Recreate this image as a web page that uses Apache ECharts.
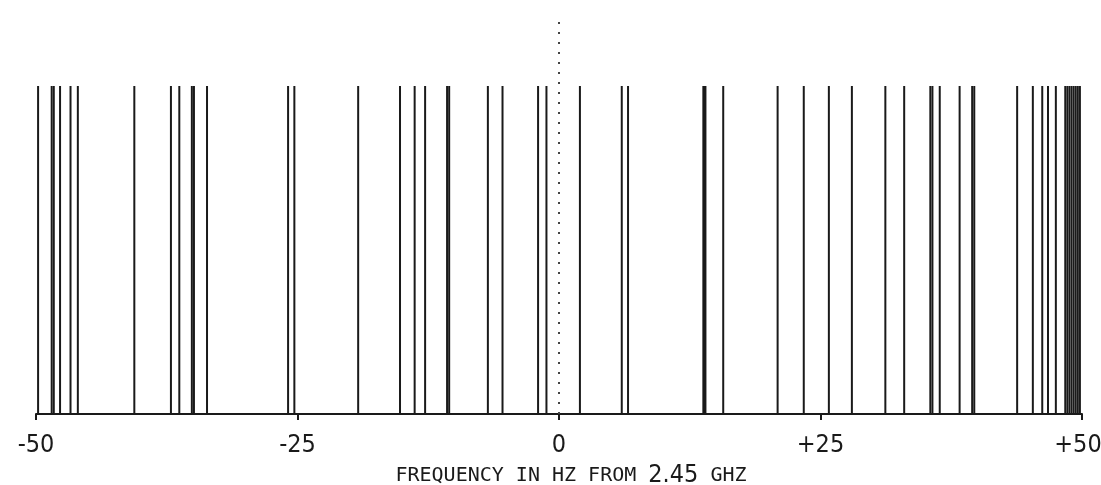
<!DOCTYPE html>
<html>
<head>
<meta charset="utf-8">
<script src="https://cdn.jsdelivr.net/npm/echarts@6/dist/echarts.min.js"></script>
<style>
  html, body { margin: 0; padding: 0; background: #fff; }
  #chart { width: 1101px; height: 485px; }
</style>
</head>
<body>
<div id="chart"></div>
<script>
// frequencies of the lines, Hz offset from 2.45 GHz (thick marks read as close pairs)
const lineFreqs = [
  -49.8, -48.5, -48.3, -47.7, -46.7, -46.0, -40.6, -37.1, -36.3, -35.1, -34.9, -33.65,
  -25.9, -25.3, -19.2, -15.2, -13.8, -12.8, -10.7, -10.5, -6.8, -5.4, -2.0, -1.2,
  2.0, 6.0, 6.6, 13.8, 13.9, 14.0, 15.7, 20.9, 23.4, 25.8, 28.0, 31.2, 33.0,
  35.5, 35.7, 36.4, 38.3, 39.5, 39.7, 43.8, 45.3, 46.2, 46.75, 47.5,
  48.4, 48.6, 48.8, 49.0, 49.2, 49.4, 49.6, 49.8
];
const lineHeight = 0.82;
const zeroLine = [0];
const zeroHeight = 1;
const tickLabels = ['-50', '-25', '0', '+25', '+50'];

const chart = echarts.init(document.getElementById('chart'), null, { renderer: 'canvas' });

function vline(height, style) {
  return function (params, api) {
    const x = api.value(0);
    const p0 = api.coord([x, 0]);
    const p1 = api.coord([x, height]);
    return {
      type: 'line',
      shape: { x1: p0[0], y1: p0[1], x2: p1[0], y2: p1[1] },
      style: style
    };
  };
}

const labelFont = '"DejaVu Sans Condensed", "Liberation Sans Narrow", sans-serif';

chart.setOption({
  backgroundColor: '#fff',
  animation: false,
  grid: { left: 36, right: 19, top: 14, bottom: 71, containLabel: false, outerBoundsMode: 'none' },
  xAxis: {
    type: 'value',
    min: -50,
    max: 50,
    interval: 25,
    axisLine: { onZero: false, lineStyle: { color: '#1a1a1a', width: 2 } },
    axisTick: { show: true, inside: false, length: 6, lineStyle: { color: '#1a1a1a', width: 2 } },
    axisLabel: {
      margin: 19,
      color: '#1a1a1a',
      fontSize: 25,
      fontFamily: labelFont,
      // last label sits a bit left of its tick so it stays on the page
      formatter: (v, i) => i === tickLabels.length - 1 ? '{r|' + tickLabels[i] + '}' : tickLabels[i],
      rich: {
        r: { fontSize: 25, fontFamily: labelFont, color: '#1a1a1a', padding: [0, 8, 0, 0] }
      }
    },
    splitLine: { show: false },
    name: '{s|FREQUENCY IN HZ FROM }{b|2.45}{s| GHZ}',
    nameLocation: 'middle',
    nameGap: 48,
    nameTextStyle: {
      padding: [0, 0, 0, 24],
      rich: {
        s: { fontFamily: '"DejaVu Sans Mono", monospace', fontSize: 20, color: '#1a1a1a' },
        b: { fontFamily: labelFont, fontSize: 25, color: '#1a1a1a' }
      }
    }
  },
  yAxis: {
    type: 'value',
    min: 0,
    max: 1,
    show: false
  },
  series: [
    {
      type: 'custom',
      data: lineFreqs.map(f => [f]),
      renderItem: vline(lineHeight, { stroke: '#1a1a1a', lineWidth: 2 }),
      silent: true
    },
    {
      type: 'custom',
      data: zeroLine.map(f => [f]),
      renderItem: vline(zeroHeight, { stroke: '#444', lineWidth: 2, lineDash: [2, 8] }),
      silent: true
    }
  ]
});
</script>
</body>
</html>
